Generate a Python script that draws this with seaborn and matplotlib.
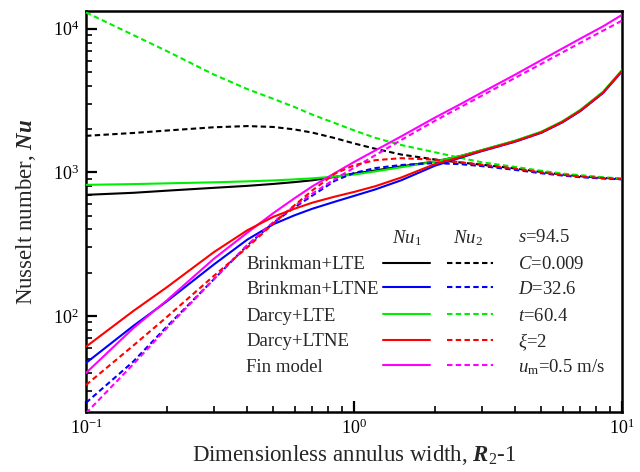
import matplotlib
matplotlib.use("Agg")
import matplotlib.pyplot as plt
from matplotlib.ticker import NullFormatter, LogLocator
import seaborn as sns
import pandas as pd

# ---- data ----
x = [0.1, 0.15, 0.2, 0.3, 0.4, 0.5, 0.6, 0.7, 0.85, 1.0, 1.2, 1.5, 2.0, 2.5, 3.0, 4.0, 5.0, 6.0, 7.0, 8.5, 10.0]

brinkman_lte_nu1 = [697, 720, 745, 780, 805, 830, 855, 880, 930, 980, 1030, 1100, 1190, 1300, 1425, 1655, 1905, 2255, 2705, 3610, 5110]
brinkman_lte_nu2 = [1795, 1880, 1955, 2060, 2100, 2070, 1990, 1890, 1730, 1590, 1460, 1330, 1230, 1170, 1130, 1065, 1005, 965, 940, 915, 900]
brinkman_ltne_nu1 = [47, 85, 126, 228, 340, 435, 502, 558, 625, 685, 760, 880, 1110, 1265, 1405, 1635, 1885, 2230, 2675, 3570, 5050]
brinkman_ltne_nu2 = [24.8, 48, 84, 180, 310, 445, 570, 690, 875, 990, 1070, 1125, 1160, 1140, 1105, 1040, 985, 950, 925, 905, 893]
darcy_lte_nu1 = [818, 828, 838, 852, 865, 878, 893, 908, 935, 965, 1015, 1085, 1185, 1300, 1430, 1665, 1920, 2270, 2730, 3640, 5150]
darcy_lte_nu2 = [13000, 9050, 7000, 4800, 3800, 3250, 2850, 2520, 2200, 1960, 1740, 1550, 1380, 1260, 1175, 1090, 1025, 980, 955, 925, 905]
darcy_ltne_nu1 = [61, 108, 158, 278, 395, 490, 558, 615, 678, 730, 800, 920, 1140, 1280, 1415, 1645, 1895, 2245, 2690, 3590, 5080]
darcy_ltne_nu2 = [33, 62, 98, 190, 300, 440, 590, 750, 980, 1120, 1215, 1255, 1225, 1175, 1130, 1060, 1000, 960, 935, 912, 898]
fin_nu1 = [40, 82, 128, 250, 380, 520, 660, 800, 990, 1180, 1420, 1780, 2400, 2990, 3600, 4800, 6050, 7300, 8550, 10400, 12500]
fin_nu2 = [21, 46, 82, 180, 312, 450, 585, 712, 900, 1075, 1315, 1680, 2280, 2850, 3420, 4560, 5700, 6850, 8000, 9700, 11400]

models = ["Brinkman+LTE", "Brinkman+LTNE", "Darcy+LTE", "Darcy+LTNE", "Fin model"]
colors = ["#000000", "#0000FF", "#00EE00", "#FF0000", "#FF00FF"]
nu1_series = [brinkman_lte_nu1, brinkman_ltne_nu1, darcy_lte_nu1, darcy_ltne_nu1, fin_nu1]
nu2_series = [brinkman_lte_nu2, brinkman_ltne_nu2, darcy_lte_nu2, darcy_ltne_nu2, fin_nu2]
params = [r"$s$=94.5", r"$C$=0.009", r"$D$=32.6", r"$t$=60.4", r"$\xi$=2", r"$u_{\mathrm{m}}$=0.5 m/s"]

# ---- style ----
sns.set_theme(style="white")
rc = {
    "font.family": ["Liberation Serif", "DejaVu Serif"],
    "mathtext.fontset": "custom",
    "mathtext.rm": "Liberation Serif",
    "mathtext.it": "Liberation Serif:italic",
    "mathtext.bf": "Liberation Serif:bold",
}
plt.rcParams.update(rc)
has_bfit = "mathtext.bfit" in plt.rcParams
if has_bfit:
    plt.rcParams["mathtext.bfit"] = "Liberation Serif:bold:italic"
    ylab = r"Nusselt number, $\mathbfit{Nu}$"
    xlab = r"Dimensionless annulus width, $\mathbfit{R}_2$-1"
else:
    ylab = r"Nusselt number, $\mathbf{Nu}$"
    xlab = r"Dimensionless annulus width, $\mathbf{R}_2$-1"

fig = plt.figure(figsize=(6.4, 4.72), dpi=100)
ax = fig.add_axes([86 / 640, 60 / 472, 536 / 640, 401 / 472])

LW = 1.5
DASH = (0, (2.6, 1.6))
zorder_order = [0, 2, 1, 4, 3]
for i in range(5):
    d1 = pd.DataFrame({"x": x, "nu": nu1_series[i]})
    d2 = pd.DataFrame({"x": x, "nu": nu2_series[i]})
    sns.lineplot(data=d1, x="x", y="nu", ax=ax, color=colors[i], lw=LW, linestyle="-",
                 estimator=None, sort=False, zorder=3 + zorder_order[i] * 0.1)
    sns.lineplot(data=d2, x="x", y="nu", ax=ax, color=colors[i], lw=LW, linestyle=DASH,
                 estimator=None, sort=False, zorder=3 + zorder_order[i] * 0.1)

ax.set_xscale("log")
ax.set_yscale("log")
ax.set_xlim(0.1, 10)
ax.set_ylim(21.4, 13300)

ax.xaxis.set_minor_locator(LogLocator(base=10, subs=range(2, 10)))
ax.yaxis.set_minor_locator(LogLocator(base=10, subs=range(2, 10)))
ax.xaxis.set_minor_formatter(NullFormatter())
ax.yaxis.set_minor_formatter(NullFormatter())

for sp in ax.spines.values():
    sp.set_linewidth(1.8)
    sp.set_color("black")

ax.tick_params(which="major", direction="in", length=8, width=1.6, top=False, right=False,
               bottom=True, left=True, labelsize=13, colors="black", pad=5)
ax.tick_params(which="minor", direction="in", length=4.5, width=1.4, top=False, right=False,
               bottom=True, left=True)

ax.set_xlabel(xlab, fontsize=16.5, labelpad=3)
ax.set_ylabel(ylab, fontsize=16.5, labelpad=11)

# ---- custom legend table ----
tr = ax.transAxes
fs = 13.5
ax.text(0.599, 0.434, r"$Nu_1$", transform=tr, ha="center", va="center", fontsize=fs)
ax.text(0.713, 0.434, r"$Nu_2$", transform=tr, ha="center", va="center", fontsize=fs)
row_y = [0.3666, 0.3067, 0.2394, 0.1746, 0.1122]
for i, (m, yy) in enumerate(zip(models, row_y)):
    ax.text(0.2985, yy, m, transform=tr, ha="left", va="center", fontsize=fs)
    ax.plot([0.554, 0.642], [yy + 0.004, yy + 0.004], transform=tr, color=colors[i], lw=LW, ls="-")
    ax.plot([0.674, 0.759], [yy + 0.004, yy + 0.004], transform=tr, color=colors[i], lw=LW, ls=DASH)
param_y = [0.434] + row_y
for p, yy in zip(params, param_y):
    ax.text(0.806, yy, p, transform=tr, ha="left", va="center", fontsize=fs)

fig.savefig("out.png", dpi=100)
